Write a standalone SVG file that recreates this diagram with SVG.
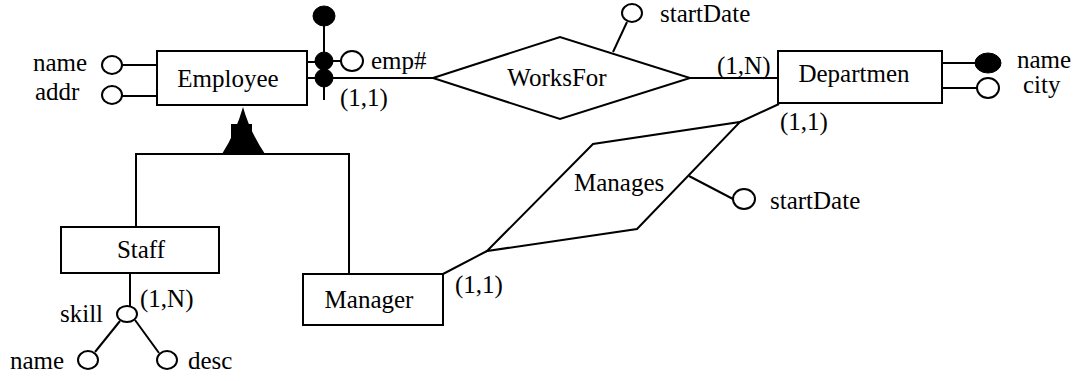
<svg xmlns="http://www.w3.org/2000/svg" width="1078" height="381" viewBox="0 0 1078 381">
  <style>
    .box { fill: #fff; stroke: #000; stroke-width: 2; }
    .ln { fill: none; stroke: #000; stroke-width: 2; }
    .att { fill: #fff; stroke: #000; stroke-width: 2; }
    .key { fill: #000; stroke: #000; stroke-width: 1; }
    text { font-family: "Liberation Serif", "Times New Roman", serif; font-size: 25px; fill: #000; }
    .mid { text-anchor: middle; }
  </style>

  <!-- connectors: relationship links, ISA hierarchy, attribute stems -->
  <g id="connectors">
    <!-- Employee attributes -->
    <line class="ln" x1="122" y1="65" x2="157" y2="65"/>
    <line class="ln" x1="122" y1="96" x2="157" y2="96"/>
    <!-- Employee key stubs -->
    <line class="ln" x1="307" y1="62" x2="324" y2="62"/>
    <line class="ln" x1="307" y1="78" x2="324" y2="78"/>
    <line class="ln" x1="324" y1="18" x2="324" y2="100"/>
    <line class="ln" x1="324" y1="61" x2="341" y2="61"/>
    <!-- Employee - WorksFor - Department -->
    <line class="ln" x1="324" y1="78" x2="433" y2="78"/>
    <line class="ln" x1="690" y1="78" x2="778" y2="78"/>
    <!-- WorksFor startDate -->
    <line class="ln" x1="613" y1="52" x2="627" y2="22"/>
    <!-- Department attributes -->
    <line class="ln" x1="942" y1="63" x2="976" y2="63"/>
    <line class="ln" x1="942" y1="88" x2="977" y2="88"/>
    <!-- Manages links -->
    <line class="ln" x1="779" y1="104" x2="740" y2="122"/>
    <line class="ln" x1="443" y1="274" x2="487" y2="251"/>
    <!-- Manages startDate -->
    <line class="ln" x1="689" y1="176" x2="733" y2="199"/>
    <!-- ISA hierarchy -->
    <polyline class="ln" points="136,227 136,154 349,154 349,274"/>
    <path d="M243,107 Q236,132 222,154 L265,154 Q250,132 243,107 Z" fill="#000"/>
    <rect x="231" y="124" width="21" height="30" fill="#000"/>
    <!-- Staff multivalued attribute -->
    <line class="ln" x1="130" y1="273" x2="130" y2="306"/>
    <line class="ln" x1="120" y1="321" x2="95" y2="352"/>
    <line class="ln" x1="135" y1="320" x2="159" y2="353"/>
  </g>

  <g id="employee">
    <rect class="box" x="157" y="51" width="150" height="54"/>
    <text class="mid" x="228" y="87">Employee</text>
  </g>
  <g id="employee-name">
    <ellipse class="att" cx="112" cy="65" rx="10" ry="9"/>
    <text x="33" y="71">name</text>
  </g>
  <g id="employee-addr">
    <ellipse class="att" cx="112" cy="95" rx="10" ry="9"/>
    <text x="35" y="100">addr</text>
  </g>
  <g id="employee-key">
    <ellipse class="key" cx="324" cy="16" rx="11" ry="10"/>
    <ellipse class="key" cx="324" cy="61" rx="9" ry="9"/>
    <ellipse class="key" cx="324" cy="78" rx="9" ry="9"/>
  </g>
  <g id="employee-empno">
    <ellipse class="att" cx="352" cy="61" rx="11" ry="10"/>
    <text x="371" y="69">emp#</text>
  </g>
  <text x="340" y="106">(1,1)</text>

  <g id="worksfor">
    <polygon class="box" points="433,78 560,37 690,78 560,119"/>
    <text class="mid" x="557" y="86">WorksFor</text>
  </g>
  <g id="worksfor-startdate">
    <ellipse class="att" cx="632" cy="13" rx="10" ry="9"/>
    <text x="660" y="22">startDate</text>
  </g>
  <text x="717" y="74">(1,N)</text>

  <g id="department">
    <rect class="box" x="778" y="51" width="164" height="52"/>
    <text class="mid" x="854" y="82">Departmen</text>
  </g>
  <g id="department-name">
    <ellipse class="key" cx="988" cy="63" rx="13" ry="10"/>
    <text x="1017" y="68">name</text>
  </g>
  <g id="department-city">
    <ellipse class="att" cx="988" cy="88" rx="11" ry="10"/>
    <text x="1023" y="93">city</text>
  </g>
  <text x="780" y="130">(1,1)</text>

  <g id="manages">
    <polygon class="box" points="487,251 593,144 740,122 637,229"/>
    <text x="574" y="191">Manages</text>
  </g>
  <g id="manages-startdate">
    <ellipse class="att" cx="744" cy="199" rx="11" ry="10"/>
    <text x="770" y="209">startDate</text>
  </g>

  <g id="staff">
    <rect class="box" x="61" y="227" width="158" height="46"/>
    <text class="mid" x="141" y="258">Staff</text>
  </g>
  <g id="staff-skill">
    <ellipse class="att" cx="127" cy="314" rx="10" ry="8"/>
    <text x="60" y="322">skill</text>
    <text x="140" y="307">(1,N)</text>
  </g>
  <g id="skill-name">
    <ellipse class="att" cx="88" cy="360" rx="10" ry="9"/>
    <text x="10" y="369">name</text>
  </g>
  <g id="skill-desc">
    <ellipse class="att" cx="167" cy="360" rx="10" ry="9"/>
    <text x="188" y="369">desc</text>
  </g>

  <g id="manager">
    <rect class="box" x="303" y="274" width="140" height="51"/>
    <text class="mid" x="369" y="308">Manager</text>
  </g>
  <text x="455" y="293">(1,1)</text>
</svg>
